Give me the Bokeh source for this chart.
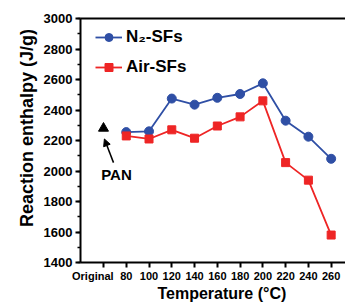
from bokeh.plotting import figure
from bokeh.models import (Range1d, FixedTicker, LinearAxis, Legend, LegendItem,
                          Arrow, NormalHead, Label)
from bokeh.embed import file_html
from bokeh.resources import INLINE

categories = ["Original", "80", "100", "120", "140", "160", "180", "200", "220", "240", "260"]
n2_values = [None, 2255, 2260, 2475, 2435, 2480, 2505, 2575, 2330, 2225, 2080]
air_values = [None, 2230, 2210, 2270, 2215, 2295, 2355, 2460, 2055, 1940, 1580]
pan_value = 2280
y_ticks = [1400, 1600, 1800, 2000, 2200, 2400, 2600, 2800, 3000]

BLUE = "#2f4fa5"
RED = "#ee2525"
FONT = "Liberation Sans"
NB = "\u00a0"

p = figure(width=345, height=304, output_backend="svg", toolbar_location=None,
           x_range=Range1d(-1.01, 10.63), y_range=Range1d(1400, 3000),
           min_border_left=80, min_border_right=0, min_border_top=18, min_border_bottom=38)
p.outline_line_color = None
p.grid.visible = False
p.background_fill_color = "white"

# x axis
xa = p.xaxis[0]
xa.ticker = FixedTicker(ticks=list(range(len(categories))))
labels = {i: c for i, c in enumerate(categories)}
labels[0] = categories[0] + NB * 7  # nudge the long first label left, as in the original
xa.major_label_overrides = labels
xa.minor_tick_line_color = None
xa.axis_label = NB * 4 + "Temperature (°C)"
# y axis
ya = p.yaxis[0]
ya.ticker = FixedTicker(ticks=y_ticks, minor_ticks=list(range(1400, 3001, 100)))
ya.axis_label = NB * 5 + "Reaction enthalpy (J/g)"
for ax in (xa, ya):
    ax.axis_line_width = 2
    ax.axis_line_color = "black"
    ax.major_tick_line_width = 2
    ax.major_tick_out = 5
    ax.major_tick_in = 0
    ax.minor_tick_out = 3
    ax.minor_tick_in = 0
    ax.minor_tick_line_width = 1.5
    ax.major_label_text_font = FONT
    ax.major_label_text_font_style = "bold"
    ax.major_label_text_color = "black"
    ax.axis_label_text_font = FONT
    ax.axis_label_text_font_style = "bold"
    ax.axis_label_text_color = "black"
xa.major_label_text_font_size = "11px"
ya.major_label_text_font_size = "13px"
xa.axis_label_text_font_size = "16px"
ya.axis_label_text_font_size = "18px"
xa.major_label_standoff = 2
ya.major_label_standoff = 3
xa.axis_label_standoff = 0
ya.axis_label_standoff = 4

# top border
top = LinearAxis(ticker=FixedTicker(ticks=[]), axis_line_width=2, axis_line_color="black")
p.add_layout(top, "above")

xs = list(range(len(categories)))
n2_x = [x for x, v in zip(xs, n2_values) if v is not None]
n2_y = [v for v in n2_values if v is not None]
air_x = [x for x, v in zip(xs, air_values) if v is not None]
air_y = [v for v in air_values if v is not None]

n2_line = p.line(n2_x, n2_y, line_color=BLUE, line_width=1.8)
n2_pts = p.scatter(n2_x, n2_y, marker="circle", size=9, fill_color=BLUE, line_color=BLUE)
air_line = p.line(air_x, air_y, line_color=RED, line_width=1.8)
air_pts = p.scatter(air_x, air_y, marker="square", size=8, fill_color=RED, line_color=RED)

# PAN point
p.scatter([0], [pan_value], marker="triangle", size=10, fill_color="black", line_color="black")
p.add_layout(Arrow(end=NormalHead(size=7, fill_color="black", line_color="black", line_width=1),
                   x_start=0.44, y_start=pan_value - 225, x_end=0.04, y_end=pan_value - 70,
                   line_color="black", line_width=1.5))
p.add_layout(Label(x=0.57, y=pan_value - 300, text="PAN", text_font=FONT, text_font_style="bold",
                   text_font_size="15px", text_align="center", text_baseline="middle",
                   text_color="black"))

legend = Legend(items=[LegendItem(label="N₂-SFs", renderers=[n2_line, n2_pts]),
                       LegendItem(label="Air-SFs", renderers=[air_line, air_pts])],
                location=(15, 185), orientation="vertical")
legend.label_text_font = FONT
legend.label_text_font_style = "bold"
legend.label_text_font_size = "17px"
legend.label_text_color = "black"
legend.glyph_width = 27
legend.glyph_height = 20
legend.label_height = 20
legend.spacing = 10
legend.padding = 0
legend.margin = 0
legend.label_standoff = 4
legend.border_line_color = None
legend.background_fill_alpha = 0
p.add_layout(legend, "center")

open("out.html", "w").write(file_html(p, INLINE))
